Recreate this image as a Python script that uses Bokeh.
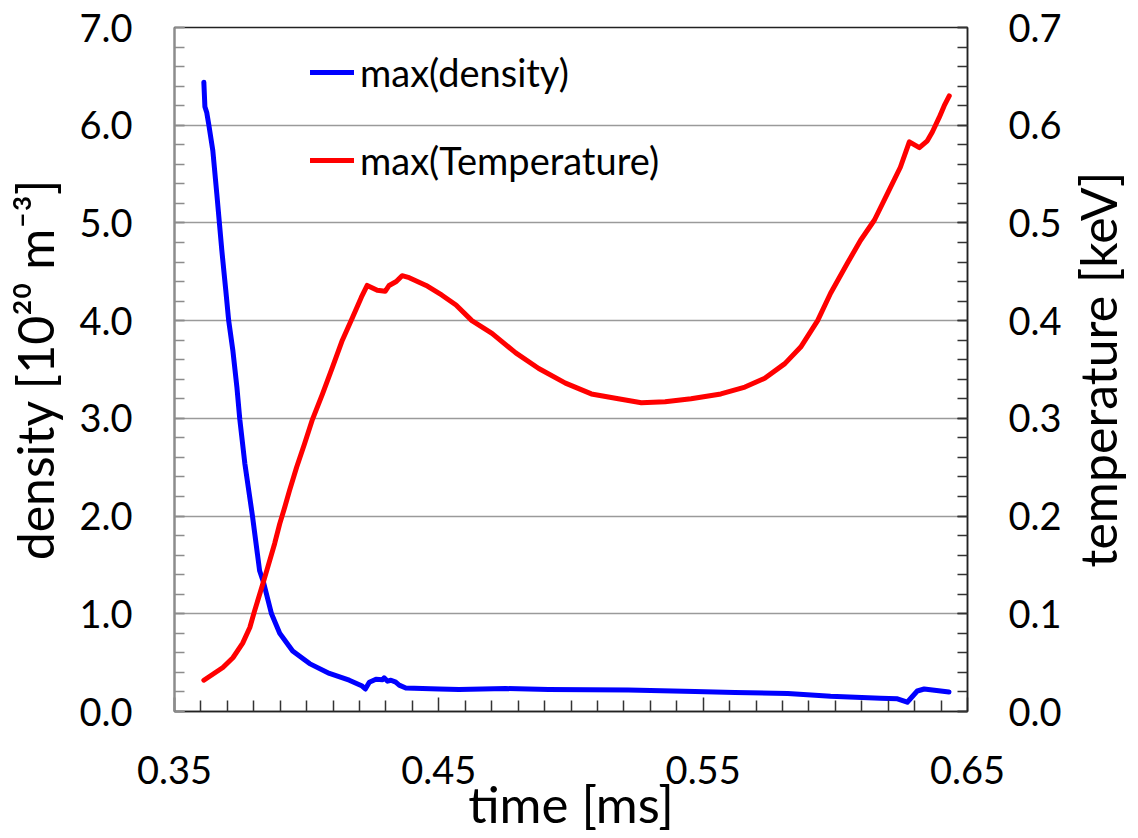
import math
from bokeh.plotting import figure
from bokeh.layouts import row
from bokeh.models import (Range1d, LinearAxis, FixedTicker, PrintfTickFormatter,
                          Legend, LegendItem)
from bokeh.embed import file_html
from bokeh.resources import INLINE

# ---------------- data ----------------
t_density = [0.3611, 0.3615, 0.3622, 0.3630, 0.3645, 0.3660, 0.3679, 0.3694, 0.3705,
             0.3721, 0.3736, 0.3747, 0.3766, 0.3795, 0.3822, 0.3837, 0.3867, 0.3898,
             0.3947, 0.4011, 0.4086, 0.4161, 0.4210, 0.4222, 0.4237, 0.4262, 0.4287,
             0.4293, 0.4306, 0.4319, 0.4337, 0.4350, 0.4375, 0.4501, 0.4576, 0.4753,
             0.4915, 0.5217, 0.5469, 0.5620, 0.5820, 0.5982, 0.6171, 0.6235, 0.6272,
             0.6310, 0.6336, 0.6430]
max_density = [6.44, 6.19, 6.13, 6.00, 5.74, 5.30, 4.72, 4.31, 4.00,
               3.69, 3.32, 2.99, 2.54, 2.00, 1.44, 1.32, 1.00, 0.80,
               0.62, 0.49, 0.39, 0.32, 0.26, 0.23, 0.30, 0.33, 0.325,
               0.345, 0.31, 0.32, 0.30, 0.27, 0.24, 0.23, 0.225, 0.235,
               0.225, 0.22, 0.205, 0.195, 0.185, 0.155, 0.135, 0.13, 0.095,
               0.21, 0.23, 0.20]

t_temperature = [0.3611, 0.3683, 0.3721, 0.3758, 0.3785, 0.3803, 0.3830, 0.3852, 0.3879,
                 0.3898, 0.3917, 0.3935, 0.3962, 0.3992, 0.4022, 0.4060, 0.4097, 0.4135,
                 0.4173, 0.4207, 0.4229, 0.4267, 0.4297, 0.4312, 0.4339, 0.4361, 0.4388,
                 0.4452, 0.4512, 0.4565, 0.4625, 0.4701, 0.4791, 0.4878, 0.4979, 0.5077,
                 0.5179, 0.5266, 0.5356, 0.5454, 0.5567, 0.5658, 0.5733, 0.5809, 0.5869,
                 0.5933, 0.5982, 0.6046, 0.6095, 0.6148, 0.6197, 0.6246, 0.6280, 0.6318,
                 0.6348, 0.6367, 0.6393, 0.6412, 0.6431]
max_temperature = [0.032, 0.045, 0.055, 0.070, 0.086, 0.103, 0.127, 0.147, 0.172,
                   0.192, 0.209, 0.226, 0.250, 0.274, 0.299, 0.325, 0.352, 0.380,
                   0.403, 0.424, 0.436, 0.431, 0.430, 0.436, 0.440, 0.446, 0.444,
                   0.436, 0.426, 0.416, 0.400, 0.387, 0.367, 0.351, 0.336, 0.325,
                   0.320, 0.316, 0.317, 0.320, 0.325, 0.332, 0.341, 0.356, 0.373,
                   0.400, 0.428, 0.459, 0.482, 0.503, 0.530, 0.557, 0.583, 0.577,
                   0.584, 0.593, 0.608, 0.620, 0.630]

x_major_ticks = [0.35, 0.45, 0.55, 0.65]
x_tick_step = 0.01
density_ticks = [0, 1, 2, 3, 4, 5, 6, 7]
density_minor_step = 0.2
temp_ticks = [0.0, 0.1, 0.2, 0.3, 0.4, 0.5, 0.6, 0.7]
temp_minor_step = 0.02

series_labels = ["max(density)", "max(Temperature)"]
x_title = "time [ms]"
left_title = "density [10\u00b2\u2070 m\u207b\u00b3]"
right_title = "temperature [keV]"

X_START, X_END = 0.35, 0.65
N_START, N_END = 0.0, 7.0
T_START, T_END = 0.0, 0.7

# ---------------- layout ----------------
FONT = "Lato"
TICK_FS = "38px"
H = 838
W_MAIN, W_SIDE = 1064, 74
BL, BR, BT, BB = 174, 94, 27, 127

p = figure(width=W_MAIN, height=H, output_backend="svg", toolbar_location=None,
           x_range=Range1d(X_START, X_END), y_range=Range1d(N_START, N_END),
           min_border_left=BL, min_border_right=BR, min_border_top=BT,
           min_border_bottom=BB)
p.extra_y_ranges = {"temp": Range1d(T_START, T_END)}
p.background_fill_color = "white"
p.border_fill_color = "white"
p.outline_line_color = "#222222"
p.outline_line_width = 1.5

# grid
p.xgrid.visible = False
p.ygrid.ticker = FixedTicker(ticks=density_ticks[1:-1])
p.ygrid.grid_line_color = "#9a9a9a"
p.ygrid.grid_line_width = 1.5

def nsteps(a, b, s):
    n = int(round((b - a) / s))
    return [round(a + i * s, 4) for i in range(n + 1)]

# x axis
xa = p.xaxis[0]
xa.ticker = FixedTicker(ticks=x_major_ticks,
                        minor_ticks=[v for v in nsteps(X_START, X_END, x_tick_step)
                                     if all(abs(v - m) > 1e-6 for m in x_major_ticks)])
xa.formatter = PrintfTickFormatter(format="%.2f")
xa.major_tick_in = 14
xa.major_tick_out = 0
xa.minor_tick_in = 11
xa.minor_tick_out = 0
xa.axis_line_color = "#222222"
xa.axis_line_width = 1.5
xa.major_tick_line_color = "#333333"
xa.minor_tick_line_color = "#333333"
xa.major_tick_line_width = 1.5
xa.minor_tick_line_width = 1.5
xa.major_label_standoff = 44
xa.major_label_text_font = FONT
xa.major_label_text_font_size = TICK_FS
xa.major_label_text_color = "black"
xa.axis_label = x_title
xa.axis_label_text_font = FONT
xa.axis_label_text_font_size = "51px"
xa.axis_label_text_font_style = "normal"
xa.axis_label_text_color = "black"
xa.axis_label_standoff = -14

# left axis
ya = p.yaxis[0]
ya.ticker = FixedTicker(ticks=density_ticks,
                        minor_ticks=nsteps(N_START, N_END, density_minor_step))
ya.formatter = PrintfTickFormatter(format="%.1f")
ya.major_tick_in = 10
ya.major_tick_out = 0
ya.minor_tick_in = 10
ya.minor_tick_out = 0
ya.axis_line_color = "#8c8c8c"
ya.axis_line_width = 2
ya.major_tick_line_color = "#8c8c8c"
ya.minor_tick_line_color = "#8c8c8c"
ya.major_tick_line_width = 1.5
ya.minor_tick_line_width = 1.5
ya.major_label_standoff = 42
ya.major_label_text_font = FONT
ya.major_label_text_font_size = TICK_FS
ya.major_label_text_color = "black"
ya.axis_label = left_title
ya.axis_label_text_font = FONT
ya.axis_label_text_font_size = "50px"
ya.axis_label_text_font_style = "normal"
ya.axis_label_text_color = "black"
ya.axis_label_standoff = 11

# right axis (ticks + labels)
ra = LinearAxis(y_range_name="temp",
                ticker=FixedTicker(ticks=temp_ticks,
                                   minor_ticks=nsteps(T_START, T_END, temp_minor_step)),
                formatter=PrintfTickFormatter(format="%.1f"))
ra.major_tick_in = 10
ra.major_tick_out = 0
ra.minor_tick_in = 10
ra.minor_tick_out = 0
ra.axis_line_color = "#222222"
ra.axis_line_width = 1.5
ra.major_tick_line_color = "#333333"
ra.minor_tick_line_color = "#333333"
ra.major_tick_line_width = 1.5
ra.minor_tick_line_width = 1.5
ra.major_label_standoff = 41
ra.major_label_text_font = FONT
ra.major_label_text_font_size = TICK_FS
ra.major_label_text_color = "black"
p.add_layout(ra, "right")

# lines
r_dens = p.line(t_density, max_density, line_color="#0000ff", line_width=5,
                line_join="round", line_cap="round")
r_temp = p.line(t_temperature, max_temperature, y_range_name="temp",
                line_color="#ff0000", line_width=5, line_join="round", line_cap="round")

# legend
legend = Legend(items=[LegendItem(label=series_labels[0], renderers=[r_dens]),
                       LegendItem(label=series_labels[1], renderers=[r_temp])],
                location=(136, 528), orientation="vertical",
                padding=0, margin=0, spacing=42, glyph_width=44, glyph_height=44,
                label_height=44, label_standoff=6,
                label_text_font=FONT, label_text_font_size="38px",
                label_text_color="black",
                background_fill_alpha=0, border_line_color=None)
p.add_layout(legend)

# right-hand axis title (reads bottom-to-top), as a narrow companion panel
p2 = figure(width=W_SIDE, height=H, output_backend="svg", toolbar_location=None,
            x_range=Range1d(0, 1), y_range=Range1d(T_START, T_END),
            min_border_left=64, min_border_right=0, min_border_top=BT,
            min_border_bottom=BB)
p2.outline_line_color = None
p2.background_fill_color = "white"
p2.border_fill_color = "white"
p2.xaxis.visible = False
p2.xgrid.visible = False
p2.ygrid.visible = False
ta = p2.yaxis[0]
ta.ticker = FixedTicker(ticks=[])
ta.axis_line_color = None
ta.major_tick_in = 0
ta.major_tick_out = 0
ta.minor_tick_in = 0
ta.minor_tick_out = 0
ta.major_label_standoff = 0
ta.axis_label = right_title
ta.axis_label_text_font = FONT
ta.axis_label_text_font_size = "50px"
ta.axis_label_text_font_style = "normal"
ta.axis_label_text_color = "black"
ta.axis_label_standoff = 7

layout = row(p, p2, spacing=0)
open("out.html", "w").write(file_html(layout, INLINE))
